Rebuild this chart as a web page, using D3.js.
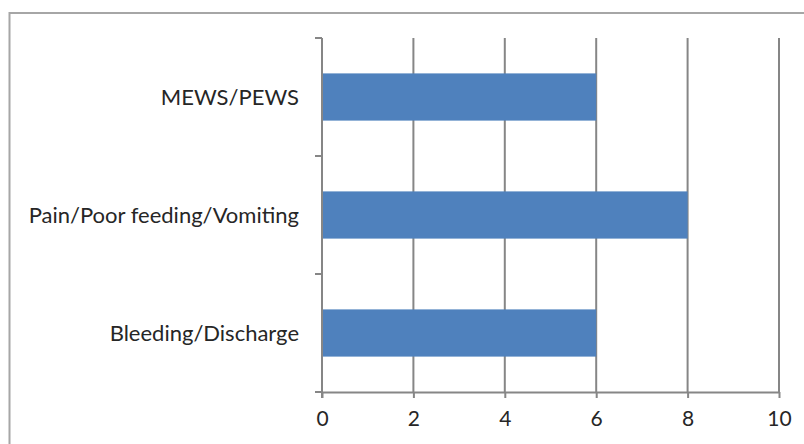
<!DOCTYPE html>
<html>
<head>
<meta charset="utf-8">
<script src="https://cdn.jsdelivr.net/npm/d3@7"></script>
<style>
  html, body { margin: 0; padding: 0; background: #fff; }
  svg { display: block; }
  text { font-family: Lato, "Open Sans", sans-serif; fill: #262626; }
</style>
</head>
<body>
<svg id="chart" width="804" height="444"></svg>
<script>
// Categories listed top to bottom, with their counts
const categories = ["MEWS/PEWS", "Pain/Poor feeding/Vomiting", "Bleeding/Discharge"];
const counts = [6, 8, 6];
const xTicks = [0, 2, 4, 6, 8, 10];

const svg = d3.select("#chart");
const margin = { left: 322, right: 25, top: 38, bottom: 52 };
const width = 804, height = 444;

// Outer frame of the chart area
svg.append("rect")
  .attr("x", 9.5).attr("y", 13)
  .attr("width", 820).attr("height", 460)
  .attr("fill", "#fff")
  .attr("stroke", "#a6a6a6").attr("stroke-width", 2);

const x = d3.scaleLinear().domain([0, 10]).range([margin.left, width - margin.right]);
const y = d3.scaleBand().domain(categories)
  .range([margin.top, height - margin.bottom])
  .paddingInner(0.6).paddingOuter(0.3);

// Vertical gridlines
svg.append("g").selectAll("line")
  .data(xTicks.filter(d => d > 0))
  .join("line")
  .attr("x1", d => x(d)).attr("x2", d => x(d))
  .attr("y1", margin.top).attr("y2", height - margin.bottom)
  .attr("stroke", "#868686").attr("stroke-width", 2);

// Bars
svg.append("g").selectAll("rect")
  .data(categories)
  .join("rect")
  .attr("x", x(0))
  .attr("y", d => y(d))
  .attr("width", (d, i) => x(counts[i]) - x(0))
  .attr("height", y.bandwidth())
  .attr("fill", "#4f81bd");

// Bottom axis
const xAxis = svg.append("g")
  .attr("transform", `translate(0,${height - margin.bottom})`)
  .call(d3.axisBottom(x).tickValues(xTicks).tickSize(6).tickPadding(13).tickSizeOuter(0));
xAxis.select(".domain").attr("stroke", "#868686").attr("stroke-width", 2);
xAxis.selectAll(".tick line").attr("stroke", "#868686").attr("stroke-width", 2);
xAxis.selectAll(".tick text").style("font-size", "21px").attr("fill", "#262626");

// Left axis with ticks between the category bands
const yAxisG = svg.append("g");
yAxisG.append("line")
  .attr("x1", x(0)).attr("x2", x(0))
  .attr("y1", margin.top).attr("y2", height - margin.bottom + 6)
  .attr("stroke", "#868686").attr("stroke-width", 2);
const boundaries = d3.range(categories.length + 1).map(i =>
  margin.top + i * y.step());
yAxisG.selectAll("line.b")
  .data(boundaries)
  .join("line")
  .attr("class", "b")
  .attr("x1", x(0) - 7).attr("x2", x(0))
  .attr("y1", d => d).attr("y2", d => d)
  .attr("stroke", "#868686").attr("stroke-width", 2);

// Category labels
svg.append("g").selectAll("text")
  .data(categories)
  .join("text")
  .attr("x", 299)
  .attr("y", d => y(d) + y.bandwidth() / 2)
  .attr("dy", "0.35em")
  .attr("text-anchor", "end")
  .style("font-size", "22px")
  .text(d => d);
</script>
</body>
</html>
